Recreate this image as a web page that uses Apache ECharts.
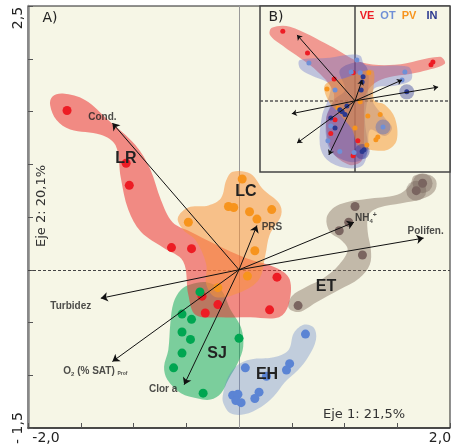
<!DOCTYPE html>
<html>
<head>
<meta charset="utf-8">
<script src="https://cdn.jsdelivr.net/npm/echarts@6/dist/echarts.min.js"></script>
<style>
  html, body { margin: 0; padding: 0; background: #fff; }
  #chart { width: 455px; height: 448px; }
</style>
</head>
<body>
<div id="chart"></div>
<script>
// Panel A: sitios (Eje 1, Eje 2)
const lrPts = [[-1.63,1.51],[-1.07,1.01],[-1.04,0.80],[-0.64,0.21],[-0.45,0.20],[0.36,-0.07],[-0.35,-0.25],[-0.20,-0.33],[-0.32,-0.41],[0.29,-0.38]];
const lcPts = [[0.03,0.86],[-0.10,0.60],[-0.05,0.59],[0.10,0.55],[0.31,0.57],[0.17,0.48],[-0.48,0.45],[0.15,0.18],[0.08,-0.06],[-0.20,-0.17]];
const sjPts = [[-0.37,-0.21],[-0.54,-0.42],[-0.45,-0.47],[-0.54,-0.59],[-0.46,-0.66],[0.00,-0.65],[-0.54,-0.79],[-0.62,-0.93],[-0.34,-1.17]];
const ehPts = [[0.63,-0.61],[0.06,-0.93],[0.48,-0.89],[0.45,-0.95],[0.19,-1.16],[0.15,-1.22],[0.26,-1.01],[-0.06,-1.19],[-0.01,-1.18],[-0.03,-1.24],[0.02,-1.26]];
const etPts = [[1.74,0.82],[1.68,0.75],[1.10,0.60],[1.04,0.45],[0.95,0.37],[1.17,0.14],[0.56,-0.34]];

// contornos de cada grupo
const lrHull = [[-1.77,1.64],[-1.67,1.67],[-1.46,1.61],[-1.24,1.42],[-0.98,1.18],[-0.84,0.95],[-0.74,0.66],[-0.63,0.45],[-0.46,0.36],[-0.22,0.24],[0.07,0.11],[0.35,0.02],[0.48,-0.09],[0.47,-0.33],[0.38,-0.45],[0.11,-0.45],[-0.17,-0.45],[-0.41,-0.43],[-0.48,-0.24],[-0.53,0.08],[-0.72,0.21],[-0.93,0.36],[-1.05,0.57],[-1.12,0.87],[-1.17,1.18],[-1.31,1.28],[-1.60,1.33],[-1.73,1.42],[-1.79,1.56]];
const lcHull = [[-0.06,0.93],[0.11,0.91],[0.23,0.76],[0.38,0.63],[0.40,0.52],[0.29,0.33],[0.25,0.14],[0.19,-0.09],[0.02,-0.21],[-0.22,-0.26],[-0.31,-0.14],[-0.31,0.05],[-0.41,0.28],[-0.53,0.38],[-0.58,0.49],[-0.48,0.59],[-0.29,0.61],[-0.17,0.68],[-0.12,0.85]];
const sjHull = [[-0.46,-0.14],[-0.30,-0.12],[-0.17,-0.19],[-0.08,-0.38],[0.02,-0.55],[0.04,-0.73],[-0.01,-0.88],[-0.10,-1.04],[-0.17,-1.17],[-0.27,-1.23],[-0.39,-1.22],[-0.55,-1.17],[-0.68,-1.04],[-0.71,-0.92],[-0.67,-0.76],[-0.65,-0.50],[-0.62,-0.31],[-0.55,-0.19]];
const ehHull = [[0.62,-0.52],[0.71,-0.55],[0.73,-0.66],[0.66,-0.82],[0.56,-0.95],[0.43,-1.07],[0.33,-1.20],[0.21,-1.30],[0.05,-1.37],[-0.08,-1.36],[-0.15,-1.26],[-0.15,-1.17],[-0.10,-1.01],[-0.01,-0.90],[0.11,-0.85],[0.33,-0.83],[0.47,-0.76],[0.52,-0.60]];
const etHull = [[1.66,0.89],[1.80,0.90],[1.87,0.84],[1.85,0.74],[1.73,0.67],[1.54,0.63],[1.33,0.59],[1.23,0.52],[1.22,0.36],[1.25,0.19],[1.24,0.05],[1.14,-0.08],[0.95,-0.19],[0.73,-0.31],[0.57,-0.40],[0.47,-0.36],[0.50,-0.25],[0.64,-0.16],[0.80,-0.08],[0.95,0.05],[1.03,0.19],[0.97,0.28],[0.86,0.36],[0.83,0.49],[0.90,0.59],[1.02,0.64],[1.21,0.67],[1.50,0.71],[1.62,0.80]];

// variables ambientales (puntas de flecha)
const varNames = ['Cond.', 'PRS', 'NH4+', 'Polifen.', 'Turbidez', 'O2 (% SAT) Prof', 'Clor a'];
const varMain = [[-1.20,1.39],[0.17,0.42],[1.09,0.45],[1.75,0.30],[-1.31,-0.27],[-1.20,-0.87],[-0.52,-1.09]];

// Panel B: estaciones del año
const vePts = [[-1.52,1.47],[-1.00,1.01],[-0.44,0.46],[-0.04,0.59],[1.60,0.76],[1.64,0.82],[-0.42,-0.40],[-0.51,-0.69],[0.06,-0.84],[-0.04,-1.16]];
const otPts = [[-0.97,0.80],[0.04,0.86],[-0.08,0.61],[0.11,0.59],[-0.42,0.23],[1.05,0.61],[0.99,0.44],[-0.36,-0.17],[-0.51,-0.53],[-0.57,-0.84],[-0.32,-1.07],[-0.02,-1.09],[0.59,-0.55]];
const pvPts = [[-0.59,0.25],[0.29,0.59],[0.11,-0.02],[0.27,-0.32],[0.53,-0.29],[0.00,-0.57],[0.44,-0.82],[0.48,-0.76],[0.25,-0.93],[-0.36,-0.15]];
const inPts = [[0.17,0.51],[0.15,0.40],[0.13,0.23],[1.09,0.19],[-0.17,-0.11],[-0.32,-0.19],[-0.27,-0.23],[-0.21,-0.29],[-0.51,-0.36],[-0.42,-0.57],[0.15,-1.07],[0.19,-1.03]];
const otHalo = [12];
const inHalo = [3, 10];

const veHull = [[-1.75,1.54],[-1.37,1.56],[-0.53,1.16],[0.11,0.82],[0.84,0.76],[1.79,0.93],[1.89,0.78],[1.37,0.61],[0.53,0.44],[0.23,0.13],[0.19,-0.61],[0.15,-1.24],[-0.11,-1.35],[-0.48,-1.07],[-0.61,-0.40],[-0.44,0.13],[-0.78,0.61],[-1.52,1.16],[-1.79,1.39]];
const otHull = [[-1.16,0.86],[-0.53,0.91],[-0.11,0.97],[0.11,0.95],[0.21,0.76],[0.95,0.74],[1.16,0.69],[1.18,0.44],[0.84,0.32],[0.42,0.27],[0.36,0.02],[0.63,-0.36],[0.78,-0.57],[0.63,-0.74],[0.32,-0.61],[0.27,-1.03],[0.15,-1.37],[-0.21,-1.41],[-0.59,-1.24],[-0.74,-0.93],[-0.69,-0.29],[-0.57,0.02],[-0.53,0.34],[-0.95,0.55],[-1.16,0.69]];
const inHull = [[-0.32,0.65],[0.11,0.82],[0.27,0.65],[0.27,0.13],[0.21,-0.40],[0.27,-1.03],[0.15,-1.24],[-0.15,-1.28],[-0.53,-1.03],[-0.61,-0.40],[-0.44,0.02],[-0.21,0.23]];
const pvHull = [[-0.63,0.34],[-0.21,0.48],[0.27,0.65],[0.40,0.61],[0.40,0.02],[0.63,-0.08],[0.84,-0.36],[0.88,-0.82],[0.69,-1.03],[0.32,-1.03],[0.06,-0.93],[-0.06,-0.61],[-0.32,-0.29],[-0.57,0.02]];
const varInset = [[-1.22,1.39],[0.15,0.44],[0.99,0.44],[1.75,0.29],[-1.33,-0.27],[-1.22,-0.89],[-0.55,-1.14]];

const cream = '#f6f6e6';
const chart = echarts.init(document.getElementById('chart'));

function hull(pts, color, gi, smooth) {
  return {
    type: 'custom', xAxisIndex: gi, yAxisIndex: gi, data: [[0, 0]], silent: true, z: 2,
    renderItem: function (params, api) {
      return {
        type: 'polygon',
        shape: { points: pts.map(p => api.coord(p)), smooth: smooth },
        style: { fill: color }
      };
    }
  };
}
function dots(pts, color, size, gi) {
  return { type: 'scatter', xAxisIndex: gi, yAxisIndex: gi, data: pts, symbolSize: size,
    itemStyle: { color: color, opacity: 1 }, z: 4, silent: true };
}
function arrows(tips, gi, size) {
  return {
    type: 'lines', coordinateSystem: 'cartesian2d', xAxisIndex: gi, yAxisIndex: gi,
    data: tips.map(t => ({ coords: [[0, 0], t] })),
    symbol: ['none', 'arrow'], symbolSize: size,
    lineStyle: { color: '#111', width: 1, opacity: 1 }, z: 5, silent: true
  };
}
// ejes en cero, de borde a borde
function zeroLines(gi, xr, yr, vColor, hColor, w) {
  return {
    type: 'lines', coordinateSystem: 'cartesian2d', xAxisIndex: gi, yAxisIndex: gi,
    symbol: 'none', silent: true, z: 1,
    data: [
      { coords: [[0, yr[0]], [0, yr[1]]], lineStyle: { color: vColor, type: 'solid', width: w, opacity: 1 } },
      { coords: [[xr[0], 0], [xr[1], 0]], lineStyle: { color: hColor, type: [3, 2], width: w, opacity: 1 } }
    ]
  };
}

const lblFont = { color: '#222', fontFamily: 'Liberation Sans', fontWeight: 'bold', fontSize: 10 };
const varLabels = {
  'Cond.': { offset: [-10, -6], text: 'Cond.' },
  'PRS': { offset: [15, 2], text: 'PRS' },
  'NH4+': { offset: [12, -4], text: '{a|NH}{s|4}{p|+}' },
  'Polifen.': { offset: [2, -7], text: 'Polifen.' },
  'Turbidez': { offset: [-30, 8], text: 'Turbidez' },
  'O2 (% SAT) Prof': { offset: [-17, 10], text: '{a|O}{s|2}{a| (% SAT) }{t|Prof}' },
  'Clor a': { offset: [-21, 5], text: 'Clor a' }
};

const txt = (x, y, text, font, fill, rot) => ({
  type: 'text', x: x, y: y, z: 10, rotation: rot || 0,
  style: { text: text, font: font, fill: fill, align: 'center', verticalAlign: 'middle' }
});

const option = {
  backgroundColor: '#fff',
  animation: false,
  grid: [
    { left: 28, top: 6, width: 422, height: 422, show: true, backgroundColor: cream, borderColor: '#222', borderWidth: 1 },
    { left: 260, top: 6, width: 190, height: 166, show: true, backgroundColor: cream, borderColor: '#444', borderWidth: 1.5 }
  ],
  xAxis: [
    { gridIndex: 0, type: 'value', min: -2, max: 2, interval: 0.5,
      axisLine: { show: true, onZero: false, lineStyle: { color: '#333', width: 1.5 } },
      axisTick: { show: true, inside: true, length: 5, lineStyle: { color: '#555' } },
      axisLabel: { show: false }, splitLine: { show: false } },
    { gridIndex: 1, type: 'value', min: -2, max: 2, show: false, splitLine: { show: false } }
  ],
  yAxis: [
    { gridIndex: 0, type: 'value', min: -1.5, max: 2.5, interval: 0.5,
      axisLine: { show: true, onZero: false, lineStyle: { color: '#888', width: 2.5 } },
      axisTick: { show: true, inside: true, length: 5, lineStyle: { color: '#555' } },
      axisLabel: { show: false }, splitLine: { show: false } },
    { gridIndex: 1, type: 'value', min: -1.5, max: 2, show: false, splitLine: { show: false } }
  ],
  series: [
    zeroLines(0, [-2, 2], [-1.5, 2.5], '#999', '#444', 1),
    hull(sjHull, 'rgba(0,166,81,0.5)', 0, 0.35),
    hull(ehHull, 'rgba(95,130,200,0.35)', 0, 0.35),
    hull(etHull, 'rgba(130,110,95,0.45)', 0, 0.35),
    hull(lrHull, 'rgba(236,50,50,0.55)', 0, 0.35),
    hull(lcHull, 'rgba(247,148,60,0.55)', 0, 0.35),
    dots(etPts.slice(0, 2), 'rgba(110,90,80,0.35)', 20, 0),
    dots(lrPts, '#ed1c24', 9, 0),
    dots(lcPts, '#f7941d', 9, 0),
    dots(sjPts, '#00a651', 9, 0),
    dots(ehPts, '#5b84d4', 9, 0),
    dots(etPts, '#7a6560', 9, 0),
    arrows(varMain, 0, 7),
    {
      type: 'scatter', xAxisIndex: 0, yAxisIndex: 0, symbolSize: 0, z: 6, silent: true,
      data: varNames.map((n, i) => ({
        value: varMain[i],
        label: {
          show: true, position: 'inside', offset: varLabels[n].offset,
          formatter: varLabels[n].text, ...lblFont,
          rich: {
            a: { ...lblFont },
            s: { ...lblFont, fontSize: 6, padding: [6, 0, 0, 0] },
            p: { ...lblFont, fontSize: 7, padding: [0, 0, 6, 0] },
            t: { ...lblFont, fontSize: 5, padding: [5, 0, 0, 0] }
          }
        }
      }))
    },

    zeroLines(1, [-2, 2], [-1.5, 2], '#444', '#555', 1.5),
    hull(veHull, 'rgba(236,60,60,0.5)', 1, 0.35),
    hull(otHull, 'rgba(110,120,205,0.4)', 1, 0.35),
    hull(inHull, 'rgba(50,55,160,0.28)', 1, 0.35),
    hull(pvHull, 'rgba(247,148,40,0.5)', 1, 0.35),
    dots(otHalo.map(i => otPts[i]), 'rgba(90,110,190,0.45)', 15, 1),
    dots(inHalo.map(i => inPts[i]), 'rgba(40,50,150,0.4)', 15, 1),
    dots(vePts, '#ed1c24', 5, 1),
    dots(otPts, '#6f8fd6', 5, 1),
    dots(pvPts, '#f7941d', 5, 1),
    dots(inPts, '#2b3990', 5, 1),
    arrows(varInset, 1, 5)
  ],
  graphic: [
    txt(18, 18, '2,5', '14px DejaVu Sans', '#222', Math.PI / 2),
    txt(18, 428, '- 1,5', '14px DejaVu Sans', '#222', Math.PI / 2),
    txt(46, 438, '-2,0', '14px DejaVu Sans', '#222'),
    txt(440, 438, '2,0', '14px DejaVu Sans', '#222'),
    txt(42, 206, 'Eje 2: 20,1%', '13px DejaVu Sans', '#333', Math.PI / 2),
    txt(364, 415, 'Eje 1: 21,5%', '13px DejaVu Sans', '#333'),
    txt(50, 18, 'A)', '14px DejaVu Sans', '#222'),
    txt(276, 17, 'B)', '14px DejaVu Sans', '#222'),
    txt(367, 16, 'VE', 'bold 11px Liberation Sans', '#ed1c24'),
    txt(388, 16, 'OT', 'bold 11px Liberation Sans', '#6f8fd6'),
    txt(409, 16, 'PV', 'bold 11px Liberation Sans', '#f7941d'),
    txt(432, 16, 'IN', 'bold 11px Liberation Sans', '#2b3990'),
    txt(126, 159, 'LR', 'bold 16px Liberation Sans', '#222'),
    txt(246, 192, 'LC', 'bold 16px Liberation Sans', '#222'),
    txt(217, 354, 'SJ', 'bold 16px Liberation Sans', '#222'),
    txt(326, 287, 'ET', 'bold 16px Liberation Sans', '#222'),
    txt(267, 375, 'EH', 'bold 16px Liberation Sans', '#222')
  ]
};

chart.setOption(option);
</script>
</body>
</html>
